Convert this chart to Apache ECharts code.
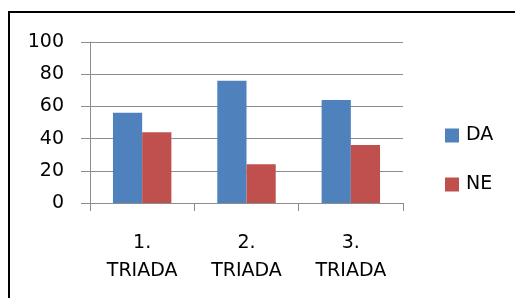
<!DOCTYPE html>
<html><head><meta charset="utf-8">
<script src="https://cdn.jsdelivr.net/npm/echarts@6/dist/echarts.min.js"></script>
<style>html,body{margin:0;padding:0;background:#fff}#c{width:515px;height:298px}</style>
</head><body><div id="c"></div>
<script>
const categories = ['1.\nTRIADA', '2.\nTRIADA', '3.\nTRIADA'];
const seriesNames = ['DA', 'NE'];
const daValues = [56, 76, 64];
const neValues = [44, 24, 36];
const yTicks = { min: 0, max: 100, interval: 20 };

const font = 'DejaVu Sans';
const chart = echarts.init(document.getElementById('c'));
chart.setOption({
  animation: false,
  backgroundColor: '#fff',
  textStyle: { fontFamily: font },
  graphic: [{
    type: 'rect', shape: { x: 9, y: 12, width: 520, height: 300 },
    style: { fill: 'none', stroke: '#000', lineWidth: 2 }
  }],
  grid: { left: 90, right: 112, top: 42, bottom: 95 },
  legend: {
    orient: 'vertical', left: 445, top: 126, padding: 0, itemWidth: 14, itemHeight: 14, itemGap: 30,
    icon: 'rect',
    textStyle: { fontFamily: font, fontSize: 19, color: '#000', padding: [0, 0, 0, 2] },
    data: seriesNames
  },
  xAxis: {
    type: 'category', data: categories,
    axisLine: { lineStyle: { color: '#8c8c8c', width: 1 } },
    axisTick: { show: true, length: 8, lineStyle: { color: '#8c8c8c' } },
    axisLabel: { fontFamily: font, fontSize: 19, color: '#000', lineHeight: 28, margin: 26 }
  },
  yAxis: {
    type: 'value', min: yTicks.min, max: yTicks.max, interval: yTicks.interval,
    axisLine: { show: true, lineStyle: { color: '#8c8c8c' } },
    axisTick: { show: true, length: 9, lineStyle: { color: '#8c8c8c' } },
    splitLine: { lineStyle: { color: '#8c8c8c' } },
    axisLabel: { fontFamily: font, fontSize: 19, color: '#000', margin: 26 }
  },
  series: [
    { name: seriesNames[0], type: 'bar', data: daValues, itemStyle: { color: '#4F81BD' }, barGap: '0%', barCategoryGap: '44%' },
    { name: seriesNames[1], type: 'bar', data: neValues, itemStyle: { color: '#C0504D' } }
  ]
});
</script></body></html>
